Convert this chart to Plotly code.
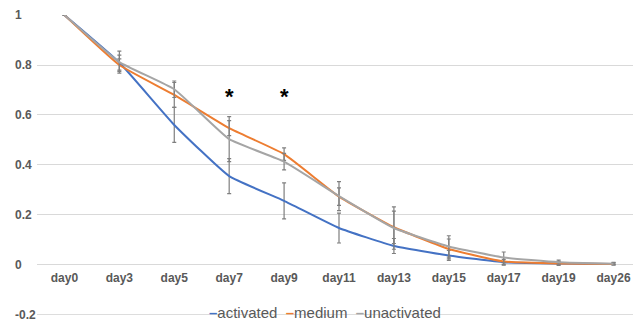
import plotly.graph_objects as go

days = ["day0", "day3", "day5", "day7", "day9", "day11", "day13", "day15", "day17", "day19", "day26"]
series_names = ["activated", "medium", "unactivated"]
activated = [1.0, 0.81, 0.56, 0.355, 0.256, 0.147, 0.075, 0.037, 0.010, 0.005, 0.003]
activated_err = [0.0, 0.03, 0.07, 0.07, 0.072, 0.06, 0.03, 0.02, 0.01, 0.005, 0.003]
medium = [1.0, 0.80, 0.68, 0.547, 0.443, 0.273, 0.150, 0.063, 0.013, 0.005, 0.003]
medium_err = [0.0, 0.025, 0.05, 0.03, 0.025, 0.035, 0.065, 0.04, 0.015, 0.008, 0.004]
unactivated = [1.0, 0.812, 0.703, 0.503, 0.413, 0.275, 0.147, 0.073, 0.029, 0.010, 0.004]
unactivated_err = [0.0, 0.044, 0.033, 0.09, 0.033, 0.058, 0.085, 0.043, 0.022, 0.008, 0.005]
y_ticks = [-0.2, 0, 0.2, 0.4, 0.6, 0.8, 1]
y_tick_labels = ["-0.2", "0", "0.2", "0.4", "0.6", "0.8", "1"]
significant_days = ["day7", "day9"]
star_level = 0.68

colors = ["#4472C4", "#ED7D31", "#A5A5A5"]
values = [activated, medium, unactivated]
errors = [activated_err, medium_err, unactivated_err]

# page body has an 8px default margin; size the figure so it fits the 641x322 window
W, H = 633, 314
ml, mr, mt, mb = 29, 0, 7, 7
pw = W - ml - mr

FONT = "Liberation Sans, Arial, sans-serif"
GRID = "#D9D9D9"

fig = go.Figure()
for name, v, e, c in zip(series_names, values, errors, colors):
    fig.add_trace(go.Scatter(
        x=days, y=v, name=name, mode="lines",
        line=dict(color=c, width=2, shape="spline", smoothing=0.4),
        error_y=dict(type="data", array=e, visible=True, color="#7F7F7F", thickness=1.2, width=2),
        showlegend=False,
    ))

tick_font = dict(family=FONT, size=12, color="#595959")

annotations = []
for t, lab in zip(y_ticks, y_tick_labels):
    annotations.append(dict(
        x=(5 - ml) / pw, xref="paper", y=t, yref="y", text="<b>%s</b>" % lab,
        showarrow=False, xanchor="left", yanchor="middle", font=tick_font,
    ))
for d in significant_days:
    annotations.append(dict(
        x=d, xref="x", y=star_level, yref="y", text="<b>*</b>", showarrow=False,
        xanchor="center", yanchor="middle", font=dict(family=FONT, size=22, color="#000000"),
        yshift=-2,
    ))
legend_text = "&nbsp;&nbsp;".join(
    "<span style='color:%s'><b>–</b></span>%s" % (c, n) for n, c in zip(series_names, colors)
)
annotations.append(dict(
    x=(324.5 - 8 - ml) / pw, xref="paper", y=-0.192, yref="y", text=legend_text, showarrow=False,
    xanchor="center", yanchor="middle",
    font=dict(family=FONT, size=15, color="#595959"),
))

shapes = [dict(type="line", xref="paper", yref="y", x0=0, x1=1, y0=y_ticks[0], y1=y_ticks[0],
               line=dict(color=GRID, width=1), layer="below")]

fig.update_layout(
    width=W, height=H,
    margin=dict(l=ml, r=mr, t=mt, b=mb),
    paper_bgcolor="white", plot_bgcolor="white",
    annotations=annotations,
    shapes=shapes,
    xaxis=dict(
        type="category", range=[-0.5, len(days) - 0.5], anchor="free", position=(0 - (-0.2015)) / 1.202,
        showgrid=False, showline=False, zeroline=False,
        ticks="outside", ticklen=2, tickcolor="rgba(0,0,0,0)",
        tickfont=tick_font,
        tickvals=days, ticktext=["<b>%s</b>" % d for d in days],
    ),
    yaxis=dict(
        range=[-0.2015, 1.0005], tickvals=y_ticks, showticklabels=False,
        showgrid=True, gridcolor=GRID, gridwidth=1,
        zeroline=True, zerolinecolor=GRID, zerolinewidth=1, showline=False,
    ),
)

fig.write_html("out.html")
